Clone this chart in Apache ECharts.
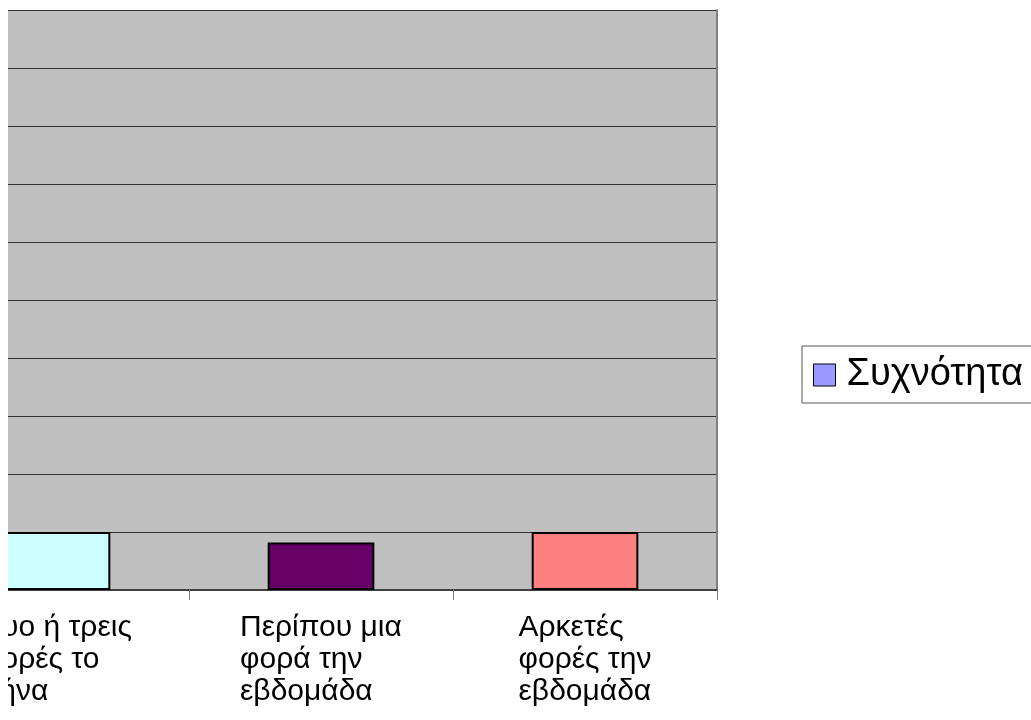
<!DOCTYPE html>
<html>
<head>
<meta charset="utf-8">
<script src="https://cdn.jsdelivr.net/npm/echarts@6/dist/echarts.min.js"></script>
<style>
html,body{margin:0;padding:0;background:#fff;overflow:hidden;width:1031px;height:720px;}
#chart{width:1106px;height:720px;margin-left:-75px;}
</style>
</head>
<body>
<div id="chart"></div>
<script>
// Data
var categories = ['Δυο ή τρεις\nφορές το\nμήνα', 'Περίπου μια\nφορά την\nεβδομάδα', 'Αρκετές\nφορές την\nεβδομάδα'];
var seriesName = 'Συχνότητα';
var values = [1, 0.82, 1];
var barColors = ['#CCFFFF', '#660066', '#FF8080'];
var yMin = 0, yMax = 10, yInterval = 1;

var FONT = '"Liberation Sans", Arial, sans-serif';
var LABEL_SIZE = 30;
var SHIFT = 75; // chart canvas starts 75px left of the page (reference is a crop)

// measure widest line per label so lines stay left-aligned inside a centred block
var cv = document.createElement('canvas').getContext('2d');
cv.font = LABEL_SIZE + 'px "Liberation Sans"';
var rich = {};
categories.forEach(function (c, i) {
  var w = 0;
  c.split('\n').forEach(function (l) { w = Math.max(w, cv.measureText(l).width); });
  rich['c' + i] = { width: Math.ceil(w), align: 'left', fontSize: LABEL_SIZE, lineHeight: 32, fontFamily: FONT, color: '#000' };
});

var chart = echarts.init(document.getElementById('chart'), null, { renderer: 'canvas' });
chart.setOption({
  animation: false,
  backgroundColor: '#ffffff',
  grid: {
    left: 0, right: 314, top: 10, bottom: 130,
    show: true, backgroundColor: '#C0C0C0', borderWidth: 0
  },
  legend: {
    show: true,
    data: [seriesName],
    left: 802 + SHIFT, top: 346,
    orient: 'vertical',
    backgroundColor: '#ffffff',
    borderColor: '#555555', borderWidth: 1,
    padding: [9, 30, 8, 11],
    itemWidth: 22, itemHeight: 22,
    icon: 'rect',
    itemStyle: { borderColor: '#000', borderWidth: 1 },
    textStyle: { fontSize: 38, lineHeight: 40, fontFamily: FONT, color: '#000', padding: [0, 0, 0, 6] }
  },
  xAxis: [{
    type: 'category',
    data: categories,
    axisLine: { show: true, lineStyle: { color: '#808080', width: 1 } },
    axisTick: { show: true, length: 10, lineStyle: { color: '#808080', width: 1 } },
    axisLabel: {
      interval: 0, margin: 22,
      formatter: function (v, i) {
        return v.split('\n').map(function (l) { return '{c' + i + '|' + l + '}'; }).join('\n');
      },
      rich: rich
    },
    splitLine: { show: false }
  }, {
    type: 'category', position: 'top',
    data: categories,
    axisLine: { show: true, lineStyle: { color: '#404040', width: 2 } },
    axisTick: { show: false }, axisLabel: { show: false }, splitLine: { show: false }
  }],
  yAxis: [{
    type: 'value', min: yMin, max: yMax, interval: yInterval,
    axisLine: { show: false }, axisTick: { show: false }, axisLabel: { show: false },
    splitLine: { show: true, lineStyle: { color: '#333333', width: 1 } }
  }, {
    type: 'value', position: 'right', min: yMin, max: yMax, interval: yInterval,
    axisLine: { show: true, lineStyle: { color: '#808080', width: 2 } },
    axisTick: { show: false }, axisLabel: { show: false }, splitLine: { show: false }
  }],
  series: [{
    name: seriesName,
    type: 'bar',
    barWidth: '40.4%',
    itemStyle: { color: '#9999FF', borderColor: '#000', borderWidth: 2 },
    data: values.map(function (v, i) { return { value: v, itemStyle: { color: barColors[i] } }; })
  }],
  graphic: [{
    type: 'rect', left: 0, top: 0, z: 100,
    shape: { width: SHIFT + 8, height: 720 },
    style: { fill: '#ffffff' }
  }]
});
</script>
</body>
</html>
